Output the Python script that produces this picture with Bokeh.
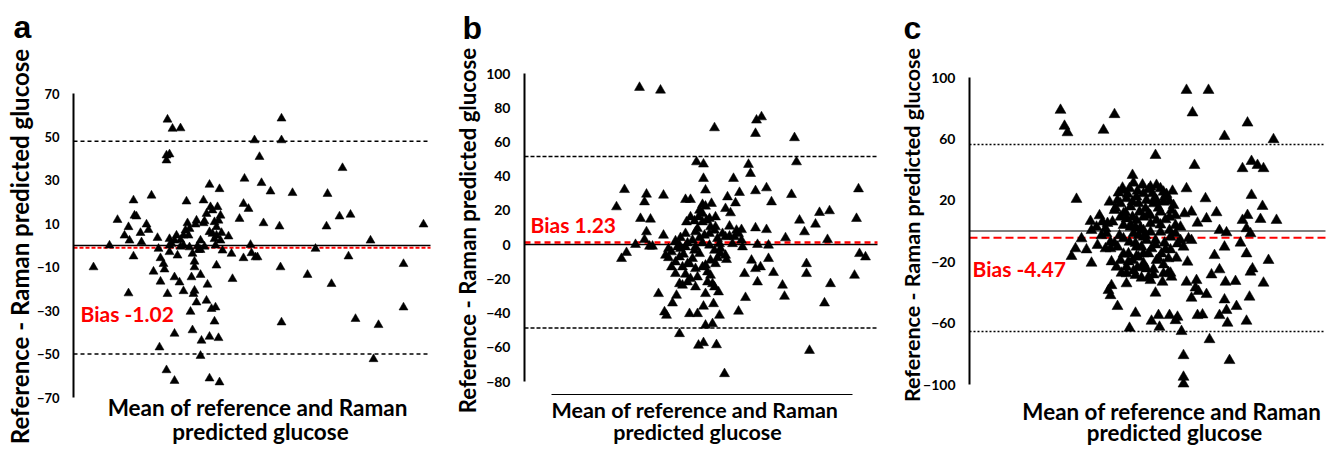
import math
from bokeh.plotting import figure
from bokeh.models import Label, FixedTicker
from bokeh.layouts import row
from bokeh.embed import file_html
from bokeh.resources import INLINE

# ---------------- data ----------------
a_mean = [60,76,84,95,91,96,100,101,103,100,95,107,108,113,115,118,124,125,127,130,
          131,120,127,134,134,139,147,133,136,133,136,136,138,141,144,143,147,147,150,146,
          150,152,153,154,156,158,159,161,161,161,160,162,164,167,167,167,170,171,170,173,
          174,173,163,157,159,168,167,141,126,133,141,176,186,176,177,179,176,179,181,182,
          178,182,181,176,185,186,184,185,183,187,188,189,195,198,199,206,210,211,215,210,
          217,218,222,224,221,226,228,230,237,248,248,246,247,248,259,274,282,294,293,298,
          306,309,315,317,322,337,340,345,370,370,390,
          141,150,155,165,171,183,187,136,156,163,181,183]
a_diff = [-10,0,11.8,8.5,4.6,2.3,20.8,13.8,13.4,-5,-22,5.8,1.5,9.7,7.2,23,3.5,-1.5,-5.8,-8.5,
          -11,-12,-16.6,-22.3,58,53.8,54,41.5,42,39.2,3,-3,0.8,-14.6,-4.6,4.6,2.6,-0.5,4.6,-17,
          -21,7,20.3,10.3,-0.8,-14.6,-3.8,-7.4,-10,-20.8,-22.3,9.7,-0.3,2.3,-2,-13.5,10.3,11.2,20.8,14.6,
          -18,-25.4,-26.2,-30.5,-39,-43.8,-50.8,-40.6,-46.9,-57.4,-62.3,-61.2,-63,28,17.7,16.2,6.2,5.4,3,0,
          -29.2,-28.5,-35,-42,-42.6,26,17.7,11.5,-9.2,13.8,5.8,-2.3,4.2,-3.8,-15.4,12.3,19.2,30.8,16.9,-5.8,
          0.3,-3.5,-5.4,-5.4,48.5,40.8,28.8,10.3,24.9,58.5,48.5,8.8,-10,-35.4,24.2,-13.5,-1.5,23.8,8.8,-17.7,
          13.4,35.7,-5,14.2,-33.8,2.3,-52.3,-36.6,-8.5,-28.5,9.7,
          2.3,0,4.6,-2,-0.5,4.6,2.3,0,7.7,11.5,10.8,8.5]

b_mean = [155,176,230,272,277,271,310,312,212,219,219,221,249,264,266,282,287,271,307,374,372,
          132,140,162,160,179,156,166,162,160,165,168,151,137,142,179,174,180,182,188,192,195,
          214,219,232,240,228,221,235,219,229,205,213,234,221,254,261,260,273,267,271,276,284,
          289,298,300,322,322,325,340,346,370,375,381,343,331,335,345,315,320,301,284,282,273,
          271,255,251,246,243,241,245,252,257,257,248,242,241,233,236,233,231,227,221,218,218,
          214,210,206,202,201,206,213,218,222,226,230,225,220,215,208,201,196,191,199,195,191,
          184,184,187,191,198,201,205,208,211,213,211,203,198,206,215,221,223,226,228,230,223,
          226,230,231,181,187,193,196,203,211,218,225,238,241,254,250,258,215,225,231,211,201,
          195,210,203,218,195,235,236,245]
b_diff = [91.8,90.2,68.2,72.7,74.6,64.9,62.4,48.3,48.3,47,38.6,31.8,38.6,46.8,41.5,33.1,24.9,31.4,29.2,32.5,15.2,
          22,32.1,29.4,24.9,28.8,15.2,14.8,7.4,2.9,-1,-1,0,-8.2,-4.7,5.4,-28.7,-39.4,-41.4,-34.2,-29.7,-52.1,
          -58.9,-57.4,-58.6,-75.5,-46.3,-47.2,-41.4,-36.1,-34.6,-40.4,-40.4,-27.7,-28.7,-39,-31,-17,-21.9,-9.2,-14.1,-13.1,-8.2,
          -16.4,-23.8,-30.3,-11.2,-17,-61.9,-34.2,-22.9,-18,-5.3,-7.3,2.9,11.9,18.7,19.7,14.2,7.4,3.9,-0.4,8.7,0,
          9.7,30.4,24.3,18.5,27.8,21,10.7,8.3,8.7,2.5,0.5,-8.8,-6.3,-7.7,-2.4,3.5,16.1,24,22.4,23.4,18.1,
          16.1,13.8,16.1,13.2,26.3,26.3,9.3,13.2,14.2,10.3,8.3,6.4,5.4,4,2.5,-1.4,4,2.1,-5.7,-7.3,-10.2,
          -7.7,-2.4,-13.1,-17,-13.1,-17.4,-11.2,-8.2,-14.1,-19,-24.8,-21.9,-23.8,-19.9,-5.3,-12.1,-16,-18,-22.9,-24.8,-21.9,
          -9.2,-3.4,-11.2,-6.3,-4.3,-1.4,-2.4,0.9,-1.4,0.9,-0.4,6.4,4.5,6.4,4.5,-1.4,20,15.2,10.3,7.4,6.4,
          -0.4,-3.4,-11.2,-13.1,-22.9,0.5,-5.3,4.9]

c_mean = [131,135,138,174,185,257,279,263,295,318,344,226,265,313,322,328,334,322,333,331,347,318,313,317,321,
          311,317,339,323,321,334,320,307,317,298,297,295,296,306,290,282,285,295,290,297,287,277,276,268,262,
          257,255,251,259,262,254,258,267,257,266,269,262,277,268,273,280,290,300,254,254,254,252,248,246,240,
          229,222,230,206,200,188,179,181,182,197,226,233,241,242,247,248,241,235,240,236,242,240,237,231,227,
          221,214,203,204,200,193,189,180,191,185,194,201,209,216,224,231,227,221,214,207,201,194,183,176,173,
          167,161,162,152,146,142,157,162,168,177,181,188,191,187,192,197,203,208,206,212,217,224,214,207,200,
          194,209,217,222,226,231,221,214,206,203,210,219,227,234,244,181,176,199,204,212,219,232,239,227,246,
          251,197,207,217,223,234,246,191,197,214,207,197,214,221,234,147,
          193,198,203,208,213,219,224,229,235,240,196,201,206,211,216,221,226,231,236,241,
          194,199,204,209,214,219,224,229,234,239,186,190,188,243,246,182,185,178,172,170]
c_diff = [78.7,68.3,64.1,65.7,75.9,91.7,91.7,77,61.7,70.4,59.6,49.3,42.8,40.7,45.4,42.8,40.7,23.3,16.1,7.6,7,10.2,7,
          1.6,-1.7,-7.8,-14.8,-19.1,-24.6,-26.7,-33.9,-43,-49.1,-58.7,-60,-51.7,-44.8,-33.3,-32.8,-25.2,-28.5,-15.9,
          -10.4,0.4,-1.1,12,8,21.1,5.2,12.4,27.6,11.3,2.6,-5,-6.1,-10.4,-20.2,-32.2,-33.3,-37,-39.3,-43.7,-41.3,-55,
          -54.6,-70.7,-55,-84.3,-81.1,-95.2,-99.6,-65.4,-56.1,-58.3,-55,-55,-58.7,-62.6,-53.5,-63.3,-49.1,-38.7,-42,
          -35.5,-34.3,-40.4,-33.3,-27.4,-30,-17.6,-8.3,-12.2,-7.8,0.4,7.4,13.5,19.3,23.9,27.6,29.8,28.7,24.3,36.3,31.3,
          27.6,26.5,24.8,18.9,17.8,13.5,11.3,15.7,17.8,14.6,17.8,12.4,7,4.8,9.1,7,2.6,3.7,5.9,1.5,5.9,2.6,6.3,0.4,-5,
          -11.5,-16.5,-12.2,-20.9,-9.3,-1.7,-11.5,-10.4,-19.1,-23.5,-27.4,-23.5,-19.1,-23.9,-28.9,-30.6,-24.6,-28.5,
          -14.8,-10.4,-7.2,-5,-2.8,-6.1,-11.5,-6.1,-0.7,-0.7,0.4,2.6,9.1,12.4,11.3,20,18.9,16.7,-7.2,-11.5,-14.8,-1.7,
          -10.4,-14.8,-14.8,-18,-19.1,-1.7,-6.1,21.1,22.2,20,24.3,25.4,3.7,9.1,8,-3.9,-16.5,-27.8,-23.5,-32.2,-27.8,20.7,
          28,24,19,26,30,27,20,15,22,9,12,4,-8,2,-3,10,-9,4,-12,-4,
          -15,-20,-26,-17,-21,-30,-25,-18,-22,-27,15,-3,20,26,10,-20,-8,5,-3,10]

a_bias, a_upper, a_lower = -1.02, 48.0, -50.0
b_bias, b_upper, b_lower = 1.23, 51.5, -48.8
c_bias, c_upper, c_lower = -4.47, 56.3, -65.4

a_ticks = [-70, -50, -30, -10, 10, 30, 50, 70]
b_ticks = [-80, -60, -40, -20, 0, 20, 40, 60, 80, 100]
c_ticks = [-100, -60, -20, 20, 60, 100]

letters = ["a", "b", "c"]
bias_texts = ["Bias -1.02", "Bias 1.23", "Bias -4.47"]
y_title = "Reference - Raman predicted glucose"
x_title_1 = "Mean of reference  and Raman"
x_title_2 = "predicted glucose"

assert len(a_mean) == len(a_diff)
assert len(b_mean) == len(b_diff)
assert len(c_mean) == len(c_diff)

FONT = "Lato"
RED = "#ff0000"
H = 450


def panel(letter, mean, diff, bias, upper, lower, ticks, bias_text, cfg):
    W = cfg["w"]
    L, R, T, B = cfg["box"]          # pixel box of the axes inside the figure
    x0, x1, y0, y1 = cfg["lims"]     # data limits of that box
    sx = (x1 - x0) / (R - L)
    sy = (y1 - y0) / (B - T)
    xr = (x0 - L * sx, x1 + (W - R) * sx)
    yr = (y0 - (H - B) * sy, y1 + T * sy)

    p = figure(width=W, height=H, output_backend="svg", toolbar_location=None,
               x_range=xr, y_range=yr,
               min_border_left=0, min_border_right=0, min_border_top=0, min_border_bottom=0)
    p.outline_line_color = None
    p.xgrid.visible = False
    p.ygrid.visible = False
    p.background_fill_color = "white"
    p.border_fill_color = "white"

    ya = p.yaxis[0]
    ya.fixed_location = x0
    ya.ticker = FixedTicker(ticks=ticks)
    ya.bounds = (y0, y1)
    ya.axis_line_color = "black"
    ya.axis_line_width = 2
    ya.major_tick_out = 0
    ya.major_tick_in = 0
    ya.minor_tick_out = 0
    ya.minor_tick_in = 0
    ya.major_label_standoff = 14
    ya.major_label_text_font = FONT
    ya.major_label_text_font_style = "bold"
    ya.major_label_text_font_size = cfg["tick_fs"]
    ya.major_label_text_color = "black"

    xa = p.xaxis[0]
    if cfg.get("xaxis"):
        loc, bx0, bx1 = cfg["xaxis"]
        xa.fixed_location = loc
        xa.bounds = (bx0, bx1)
        xa.ticker = FixedTicker(ticks=[])
        xa.axis_line_color = "black"
        xa.axis_line_width = 1
        xa.major_tick_out = 0
        xa.major_tick_in = 0
        xa.minor_tick_out = 0
        xa.minor_tick_in = 0
    else:
        xa.visible = False

    p.segment(x0=[x0], x1=[x1], y0=[0], y1=[0], line_color="black", line_width=cfg["zero_w"])
    p.segment(x0=[x0, x0], x1=[x1, x1], y0=[upper, lower], y1=[upper, lower],
              line_color=cfg["loa_color"], line_width=cfg["loa_w"], line_dash=cfg["loa_dash"])
    p.segment(x0=[x0], x1=[x1], y0=[bias], y1=[bias], line_color=RED,
              line_width=cfg["bias_w"], line_dash=cfg["bias_dash"])

    p.scatter(mean, diff, marker="triangle", size=cfg["ms"], fill_color="black",
              line_color="black", line_width=0.5)

    p.add_layout(Label(x=cfg["bias_pos"][0], y=cfg["bias_pos"][1], text=bias_text,
                       text_color=RED, text_font=FONT, text_font_style="bold",
                       text_font_size="21px", text_align="left", text_baseline="alphabetic"))
    p.add_layout(Label(x=cfg["letter_pos"][0], y=cfg["letter_pos"][1], x_units="screen",
                       y_units="screen", text=letter, text_color="black",
                       text_font="Liberation Sans", text_font_style="bold",
                       text_font_size="32px", text_align="left", text_baseline="alphabetic"))
    p.add_layout(Label(x=cfg["ytitle_pos"][0], y=cfg["ytitle_pos"][1], x_units="screen",
                       y_units="screen", text=y_title, angle=math.pi / 2,
                       text_color="black", text_font=FONT, text_font_style="bold",
                       text_font_size=cfg["yt_fs"], text_align="center", text_baseline="middle"))
    xt = cfg["xtitle"]
    for yy, txt in ((xt[1], x_title_1), (xt[2], x_title_2)):
        p.add_layout(Label(x=xt[0], y=yy, x_units="screen", y_units="screen",
                           text=txt, text_color="black", text_font=FONT,
                           text_font_style="bold", text_font_size=cfg["xt_fs"],
                           text_align="center", text_baseline="alphabetic"))
    return p


cfg_a = dict(w=445, box=(73, 430, 93, 397), lims=(40, 397, -70, 70), tick_fs="13px",
             zero_w=1.5, loa_color="black", loa_w=1.5, loa_dash="4 3",
             bias_w=2, bias_dash="4 2", ms=9, yt_fs="24px", xt_fs="22.5px",
             bias_pos=(47, -31.4), letter_pos=(13, 424), ytitle_pos=(19, 204),
             xtitle=(260, 43, 19))
cfg_b = dict(w=445, box=(79, 432, 73, 381), lims=(40, 393, -80, 100), tick_fs="14px",
             xaxis=(-87.6, 67, 368),
             zero_w=1.5, loa_color="black", loa_w=1.5, loa_dash="4 2",
             bias_w=2.5, bias_dash="6 4", ms=10, yt_fs="22.2px", xt_fs="21.5px",
             bias_pos=(46, 11.8), letter_pos=(17, 423), ytitle_pos=(22, 220),
             xtitle=(252, 41, 19))
cfg_c = dict(w=448, box=(79, 435, 77, 384), lims=(40, 396, -100, 100), tick_fs="14px",
             zero_w=1.2, loa_color="black", loa_w=1.5, loa_dash="2 2",
             bias_w=2, bias_dash="8 4", ms=11, yt_fs="21.5px", xt_fs="22.4px",
             bias_pos=(43, -24.4), letter_pos=(13, 423), ytitle_pos=(21, 225.5),
             xtitle=(284, 39, 18))

pa = panel(letters[0], a_mean, a_diff, a_bias, a_upper, a_lower, a_ticks, bias_texts[0], cfg_a)
pb = panel(letters[1], b_mean, b_diff, b_bias, b_upper, b_lower, b_ticks, bias_texts[1], cfg_b)
pc = panel(letters[2], c_mean, c_diff, c_bias, c_upper, c_lower, c_ticks, bias_texts[2], cfg_c)

layout = row(pa, pb, pc)
open("out.html", "w").write(file_html(layout, INLINE))
